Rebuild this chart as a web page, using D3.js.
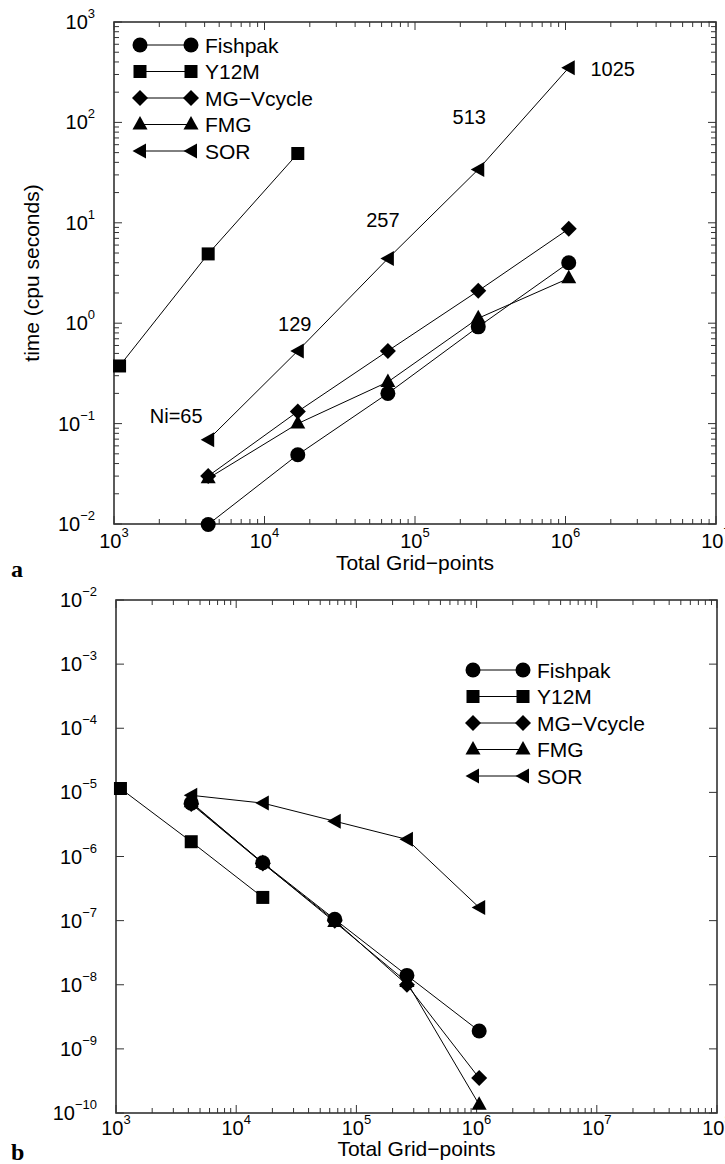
<!DOCTYPE html>
<html><head><meta charset="utf-8">
<script src="https://cdn.jsdelivr.net/npm/d3@7"></script>
<style>
body{margin:0;background:#fff;}
svg{display:block;}
text{font-family:"Liberation Sans",Arial,Helvetica,sans-serif;fill:#000;}
</style></head>
<body>
<svg id="chart" width="725" height="1164"></svg>
<script>
// ---------- data ----------
const seriesNames = ["Fishpak","Y12M","MG\u2212Vcycle","FMG","SOR"];
const gridN   = [4225, 16641, 66049, 263169, 1050625];
const gridY12 = [1089, 4225, 16641];
// panel a: time (cpu seconds)
const timeFishpak = [0.0099, 0.049, 0.20, 0.92, 4.0];
const timeY12M    = [0.375, 4.9, 49];
const timeMG      = [0.030, 0.132, 0.53, 2.1, 8.7];
const timeFMG     = [0.0285, 0.10, 0.26, 1.12, 2.8];
const timeSOR     = [0.069, 0.53, 4.4, 34, 350];
const niLabels    = ["Ni=65","129","257","513","1025"];
// panel b: average error
const errFishpak = [6.8e-6, 8.0e-7, 1.05e-7, 1.4e-8, 1.9e-9];
const errY12M    = [1.15e-5, 1.7e-6, 2.3e-7];
const errMG      = [6.6e-6, 7.8e-7, 1.0e-7, 1.0e-8, 3.5e-10];
const errFMG     = [7.0e-6, 7.9e-7, 9.5e-8, 1.1e-8, 1.35e-10];
const errSOR     = [9.0e-6, 6.8e-6, 3.55e-6, 1.85e-6, 1.6e-7];
// axis ticks (exponents)
const aXExp = [3,4,5,6,7];
const aYExp = [3,2,1,0,-1,-2];
const bXExp = [3,4,5,6,7,8];
const bYExp = [-2,-3,-4,-5,-6,-7,-8,-9,-10];

// ---------- drawing ----------
const svg = d3.select("#chart");
const shapes = {
  circle: "M7.5,0A7.5,7.5 0 1,1 -7.5,0A7.5,7.5 0 1,1 7.5,0Z",
  square: "M-6.5,-6.5H6.5V6.5H-6.5Z",
  diamond: "M0,-8L8,0L0,8L-8,0Z",
  up: "M0,-8.5L7.5,5L-7.5,5Z",
  left: "M-7.5,0L6,-7.5L6,7.5Z"
};
const shapeOf = ["circle","square","diamond","up","left"];

function sup(sel, base, exp, fs){
  sel.append("tspan").text(base);
  sel.append("tspan").attr("font-size", Math.round(fs*0.64)).attr("dy", -fs*0.55)
     .text(exp < 0 ? "\u2212" + (-exp) : String(exp));
}

function panel(cfg){
  const g = svg.append("g");
  const x = d3.scaleLog().domain(cfg.xd).range([cfg.l, cfg.r]);
  const y = d3.scaleLog().domain(cfg.yd).range([cfg.t, cfg.b]);
  // ticks
  const tk = g.append("g").attr("stroke","#333").attr("stroke-width",1);
  const xMin = Math.log10(cfg.xd[0]), xMax = Math.log10(cfg.xd[1]);
  for(let e=xMin; e<=xMax; e++){
    for(let m=1; m<=9; m++){
      const v = m*Math.pow(10,e);
      if(v > cfg.xd[1]*1.0001) break;
      const L = m===1 ? 8 : 5;
      const px = x(v);
      tk.append("line").attr("x1",px).attr("x2",px).attr("y1",cfg.b).attr("y2",cfg.b-L);
      tk.append("line").attr("x1",px).attr("x2",px).attr("y1",cfg.t).attr("y2",cfg.t+L);
    }
  }
  const yLo = Math.log10(cfg.yd[1]), yHi = Math.log10(cfg.yd[0]);
  for(let e=yLo; e<=yHi; e++){
    const ms = cfg.yMinor ? [1,2,3,4,5,6,7,8,9] : [1];
    for(const m of ms){
      const v = m*Math.pow(10,e);
      if(v > cfg.yd[0]*1.0001) break;
      const L = m===1 ? 8 : 5;
      const py = y(v);
      tk.append("line").attr("y1",py).attr("y2",py).attr("x1",cfg.l).attr("x2",cfg.l+L);
      tk.append("line").attr("y1",py).attr("y2",py).attr("x1",cfg.r).attr("x2",cfg.r-L);
    }
  }
  // frame
  g.append("rect").attr("x",cfg.l).attr("y",cfg.t).attr("width",cfg.r-cfg.l).attr("height",cfg.b-cfg.t)
    .attr("fill","none").attr("stroke","#333").attr("stroke-width",1.6);
  // tick labels
  const fs = 20;
  cfg.xExp.forEach(e=>{
    const t = g.append("text").attr("x", x(Math.pow(10,e))).attr("y", cfg.b+cfg.xLabDy)
      .attr("text-anchor","middle").attr("font-size",fs);
    sup(t,"10",e,fs);
  });
  cfg.yExp.forEach(e=>{
    const t = g.append("text").attr("x", cfg.l-19).attr("y", y(Math.pow(10,e))+7)
      .attr("text-anchor","end").attr("font-size",fs);
    sup(t,"10",e,fs);
  });
  // axis titles
  g.append("text").attr("x",(cfg.l+cfg.r)/2).attr("y",cfg.b+cfg.titleDy).attr("text-anchor","middle")
    .attr("font-size",21).text("Total Grid\u2212points");
  const yt = g.append("text").attr("transform",`translate(39,${(cfg.t+cfg.b)/2}) rotate(-90)`)
    .attr("text-anchor","middle").attr("font-size",21).text(cfg.ytitle);
  if(cfg.clipTitle){
    const id = "clipT"+cfg.id;
    svg.append("clipPath").attr("id",id).append("rect").attr("x",33).attr("y",cfg.t).attr("width",40).attr("height",cfg.b-cfg.t);
    yt.attr("clip-path",`url(#${id})`);
  }
  // panel letter
  g.append("text").attr("x",11).attr("y",cfg.b+cfg.letterDy).attr("font-size",24).attr("font-weight","bold")
    .style("font-family","'Liberation Serif','Times New Roman',serif").text(cfg.letter);
  // series
  const line = d3.line().x(d=>x(d[0])).y(d=>y(d[1]));
  cfg.series.forEach((s,i)=>{
    const pts = s.xs.map((xv,j)=>[xv, s.ys[j]]);
    g.append("path").attr("d",line(pts)).attr("fill","none").attr("stroke","#000").attr("stroke-width",1);
  });
  cfg.series.forEach((s,i)=>{
    s.xs.forEach((xv,j)=>{
      g.append("path").attr("d",shapes[shapeOf[i]])
        .attr("transform",`translate(${x(xv)},${y(s.ys[j])})`).attr("fill","#000");
    });
  });
  // legend
  const lg = g.append("g");
  seriesNames.forEach((n,i)=>{
    const yy = cfg.legY + i*26.5;
    lg.append("line").attr("x1",cfg.legX1).attr("x2",cfg.legX2).attr("y1",yy).attr("y2",yy)
      .attr("stroke","#000").attr("stroke-width",1);
    [cfg.legX1,cfg.legX2].forEach(px=>{
      lg.append("path").attr("d",shapes[shapeOf[i]]).attr("transform",`translate(${px},${yy})`).attr("fill","#000");
    });
    lg.append("text").attr("x",cfg.legX2+14).attr("y",yy+7.5).attr("font-size",21).text(n);
  });
  return {x,y,g};
}

const A = panel({
  id:"a", l:114, r:716, t:22, b:524, xd:[1e3,1e7], yd:[1e3,1e-2], yMinor:true,
  xExp:aXExp, yExp:aYExp, ytitle:"time (cpu seconds)", letter:"a",
  xLabDy:24, titleDy:46, letterDy:53,
  legX1:140, legX2:191, legY:45,
  series:[
    {xs:gridN, ys:timeFishpak},
    {xs:gridY12, ys:timeY12M},
    {xs:gridN, ys:timeMG},
    {xs:gridN, ys:timeFMG},
    {xs:gridN, ys:timeSOR}
  ]
});
// Ni annotations (placed relative to SOR points)
const niDx = [-32, -3, -5, -9, 44];
const niDy = [-17, -20, -32, -45, 8];
niLabels.forEach((t,i)=>{
  A.g.append("text").attr("x", A.x(gridN[i])+niDx[i]).attr("y", A.y(timeSOR[i])+niDy[i])
    .attr("text-anchor","middle").attr("font-size",20).text(t);
});

panel({
  id:"b", l:116, r:717, t:600, b:1113, xd:[1e3,1e8], yd:[1e-2,1e-10], yMinor:false,
  xExp:bXExp, yExp:bYExp, ytitle:"average error", letter:"b", clipTitle:true,
  xLabDy:22, titleDy:43, letterDy:47,
  legX1:473, legX2:523, legY:670,
  series:[
    {xs:gridN, ys:errFishpak},
    {xs:gridY12, ys:errY12M},
    {xs:gridN, ys:errMG},
    {xs:gridN, ys:errFMG},
    {xs:gridN, ys:errSOR}
  ]
});
</script>
</body></html>
